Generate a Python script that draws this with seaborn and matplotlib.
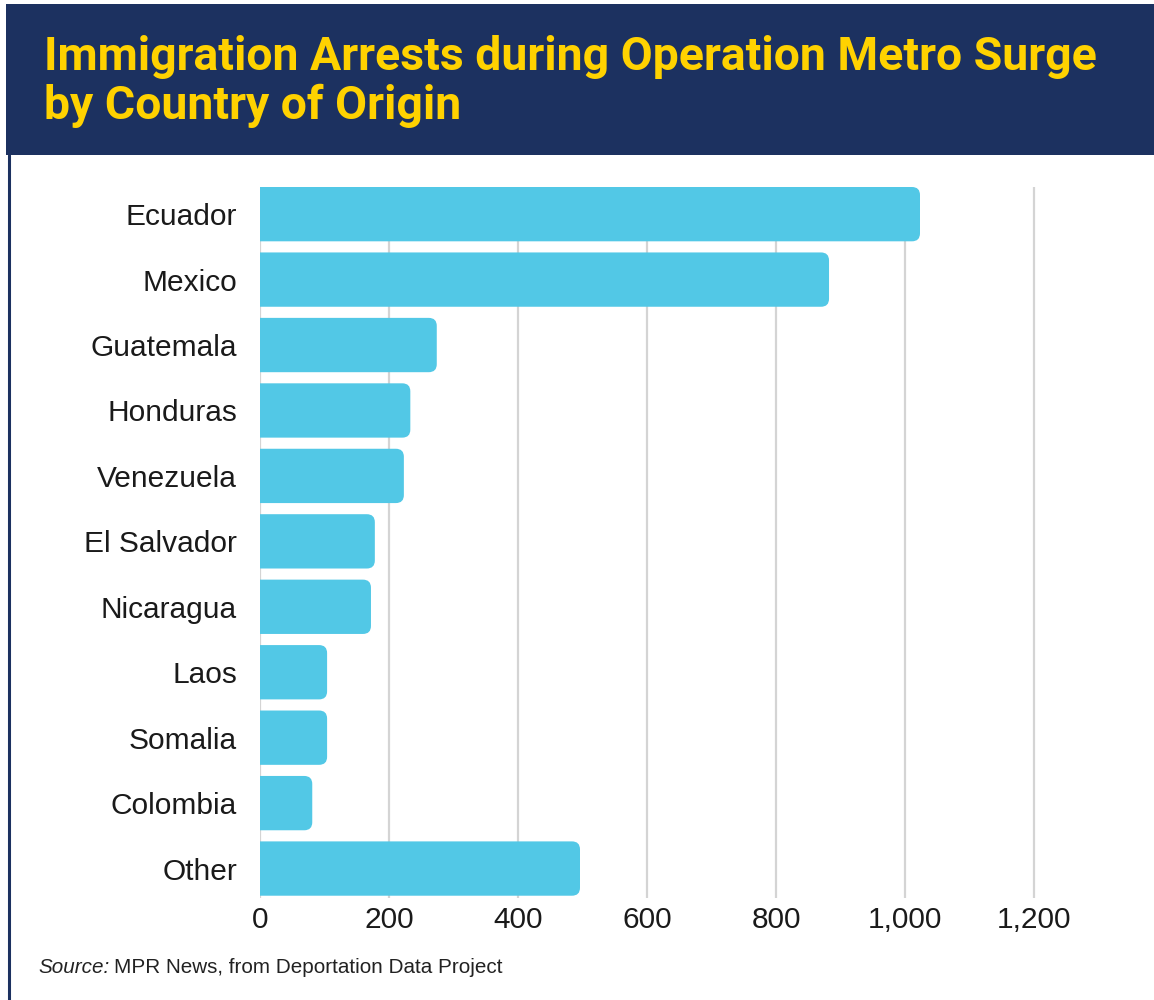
import matplotlib
matplotlib.use("Agg")
import matplotlib.pyplot as plt
import seaborn as sns
import pandas as pd
from matplotlib.patches import Rectangle, FancyBboxPatch
from matplotlib.lines import Line2D
from matplotlib.ticker import FuncFormatter


###########################
# data
countries = ["Ecuador", "Mexico", "Guatemala", "Honduras", "Venezuela", "El Salvador",
             "Nicaragua", "Laos", "Somalia", "Colombia", "Other"]
arrests = [1023, 882, 274, 233, 223, 178, 172, 104, 104, 81, 496]
x_ticks = [0, 200, 400, 600, 800, 1000, 1200]

title_lines = ["Immigration Arrests during Operation Metro Surge", "by Country of Origin"]
source_note = "MPR News, from Deportation Data Project"

navy = "#1c3160"
yellow = "#ffd200"
bar_color = "#52c8e6"

df = pd.DataFrame({"country": countries, "arrests": arrests})

################################
# figure
sns.set_style("white")
plt.rcParams['font.family'] = ['Liberation Sans', 'DejaVu Sans']

fig = plt.figure(figsize=(11.54, 10), dpi=100)
W, H = 1154, 1000
ax = fig.add_axes([260 / W, 1 - 898 / H, (1060 - 260) / W, (898 - 187) / H])

sns.barplot(data=df, x="arrests", y="country", color=bar_color, width=0.83,
            saturation=1, ax=ax, zorder=2)

ax.set_xlim(0, 1240)
ax.set_ylim(10.45, -0.415)
ax.set_xticks(x_ticks)
ax.xaxis.set_major_formatter(FuncFormatter(lambda v, p: f"{int(v):,}"))
ax.grid(axis="x", color="#d4d4d4", linewidth=1.6, zorder=0)
ax.grid(axis="y", visible=False)
for s in ax.spines.values():
    s.set_visible(False)
ax.tick_params(axis="both", length=0, labelsize=21.5, colors="#1a1a1a")
ax.tick_params(axis="y", pad=16.5)
ax.tick_params(axis="x", pad=6)
ax.set_xlabel("")
ax.set_ylabel("")

# swap plain bars for bars with rounded right ends
fig.canvas.draw()
bb = ax.get_window_extent()
px_x = bb.width / (ax.get_xlim()[1] - ax.get_xlim()[0])
px_y = bb.height / abs(ax.get_ylim()[0] - ax.get_ylim()[1])
r = 8 / px_x
for p in list(ax.patches):
    x0, y0, w, h = p.get_x(), p.get_y(), p.get_width(), p.get_height()
    fb = FancyBboxPatch((x0 - r, y0), w + r, h,
                        boxstyle=f"round,pad=0,rounding_size={r}",
                        mutation_aspect=px_x / px_y,
                        facecolor=bar_color, edgecolor="none", zorder=2)
    p.remove()
    ax.add_patch(fb)

# banner
fig.patches.append(Rectangle((6 / W, 1 - 155 / H), 1 - 6 / W, 151 / H,
                             transform=fig.transFigure, facecolor=navy,
                             edgecolor="none", zorder=0))
fig.lines.append(Line2D([9 / W, 9 / W], [0, 1 - 155 / H], transform=fig.transFigure,
                        color=navy, linewidth=2.2))
title_font = ["Roboto", "DejaVu Sans"]
t1 = fig.text(44 / W, 1 - 70 / H, title_lines[0], color=yellow, fontsize=30,
              fontweight="bold", family=title_font, va="baseline", ha="left")
fig.canvas.draw()
# fit the first line to the width it has in the original
fs = 30 * 1050 / t1.get_window_extent().width
t1.set_fontsize(fs)
fig.text(44 / W, 1 - 119 / H, title_lines[1], color=yellow, fontsize=fs,
         fontweight="bold", family=title_font, va="baseline", ha="left")

# source line
t = fig.text(38 / W, 1 - 973 / H, "Source:", fontsize=14.9, style="italic",
             color="#222222", va="baseline", ha="left")
fig.canvas.draw()
tb = t.get_window_extent()
fig.text((tb.x1 + 5) / W, 1 - 973 / H, source_note, fontsize=14.9,
         color="#222222", va="baseline", ha="left")

fig.savefig("out.png", dpi=100)
